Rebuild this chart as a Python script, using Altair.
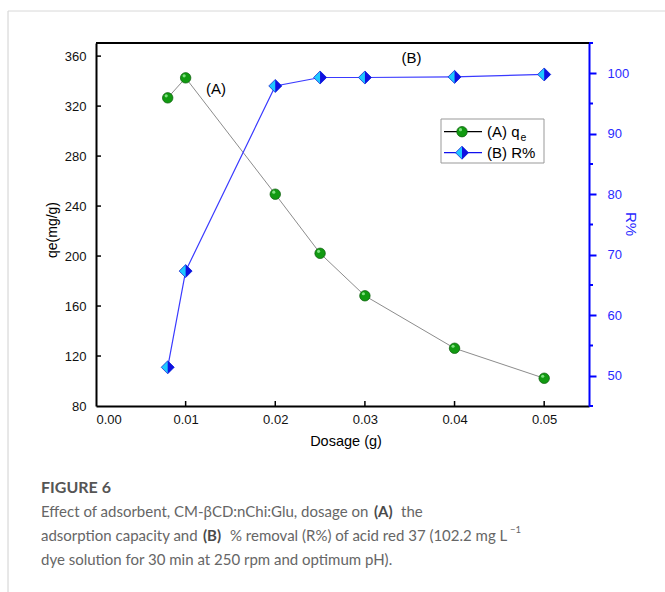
import altair as alt
import pandas as pd

# ---------------- data ----------------
dosage = [0.008, 0.010, 0.020, 0.025, 0.030, 0.040, 0.050]
qe_values = [326.6, 342.6, 249.5, 202.2, 168.2, 126.2, 102.2]
removal_pct = [51.4, 67.3, 97.9, 99.3, 99.3, 99.4, 99.8]

x_ticks = [0.00, 0.01, 0.02, 0.03, 0.04, 0.05]
qe_ticks = [80, 120, 160, 200, 240, 280, 320, 360]
r_ticks = [50, 60, 70, 80, 90, 100]
r_minor = [45, 55, 65, 75, 85, 95, 105]

ann_x = [0.0134, 0.0352]
ann_qe = [333.6, 358.4]
ann_text = ["(A)", "(B)"]

W, H = 493, 363
FONT = "Arial, Liberation Sans, sans-serif"
CAP_FONT = "Lato"

df = pd.DataFrame({"dosage": dosage, "qe": qe_values, "R": removal_pct})
ann_df = pd.DataFrame({"x": ann_x, "qe": ann_qe, "t": ann_text})

xscale = alt.Scale(domain=[0, 0.055], nice=False, zero=False)
qscale = alt.Scale(domain=[80, 370.5], nice=False, zero=False)
rscale = alt.Scale(domain=[45, 105], nice=False, zero=False)

xaxis = alt.Axis(values=x_ticks, format=".2f", title=None, grid=False, ticks=False,
                 tickSize=0, domainColor="black", domainWidth=2, labelFont=FONT,
                 labelFontSize=13, labelColor="#111", labelPadding=7)
qaxis = alt.Axis(values=qe_ticks, title=None, grid=False, ticks=False, tickSize=0,
                 domainColor="black", domainWidth=2, labelFont=FONT, labelFontSize=13,
                 labelColor="#111", labelPadding=10)
raxis = alt.Axis(orient="right", values=r_ticks, title=None, grid=False, tickSize=7,
                 tickWidth=2, tickColor="#0000ff", domainColor="#0000ff", domainWidth=2,
                 labelFont=FONT, labelFontSize=13, labelColor="#2a2aff", labelPadding=11)

X = alt.X("dosage:Q", scale=xscale, axis=xaxis)
Yq = alt.Y("qe:Q", scale=qscale, axis=qaxis)
Yr = alt.Y("R:Q", scale=rscale, axis=raxis)

base = alt.Chart(df)

# qe series
q_line = base.mark_line(color="#8c8c8c", strokeWidth=1).encode(x=X, y=Yq)
q_pts = base.mark_circle(size=110, color="#119a11", stroke="#0a5a0a", strokeWidth=0.7,
                         opacity=1).encode(x=X, y=Yq)
q_hl = base.mark_circle(size=10, color="#8be88b", opacity=0.9, xOffset=-1.5,
                        yOffset=-2).encode(x=X, y=Yq)

left_ticks = alt.Chart(pd.DataFrame({"qe": qe_ticks[1:]})).mark_rule(
    color="black", strokeWidth=1.5).encode(y=Yq, x=alt.value(0), x2=alt.value(5))
bottom_ticks = alt.Chart(pd.DataFrame({"dosage": x_ticks[1:]})).mark_rule(
    color="black", strokeWidth=1.5).encode(x=X, y=alt.value(H), y2=alt.value(H - 5))

ann = alt.Chart(ann_df).mark_text(font=FONT, fontSize=15, color="black").encode(
    x=alt.X("x:Q", scale=xscale, axis=xaxis), y=alt.Y("qe:Q", scale=qscale, axis=qaxis),
    text="t:N")

q_group = alt.layer(q_line, q_pts, q_hl, left_ticks, bottom_ticks, ann)

# R series
r_line = base.mark_line(color="#3a3aff", strokeWidth=1.2).encode(x=X, y=Yr)
r_dia = base.mark_point(shape="diamond", filled=True, fill="#1ec8ff", stroke="#1515d0",
                        strokeWidth=0.7, size=170, opacity=1).encode(x=X, y=Yr)
r_half = base.mark_point(shape="M0,-1L1,0L0,1Z", filled=True, fill="#1010e0",
                         strokeWidth=0, size=170, opacity=1).encode(x=X, y=Yr)
r_minor_ticks = alt.Chart(pd.DataFrame({"R": r_minor})).mark_rule(
    color="#0000ff", strokeWidth=2).encode(y=Yr, x=alt.value(W), x2=alt.value(W + 4))

r_group = alt.layer(r_line, r_dia, r_half, r_minor_ticks)


def txt(text, x, y, size, color="black", weight="normal", font=FONT, angle=0,
        align="left", baseline="middle"):
    return alt.Chart(pd.DataFrame({"t": [text]})).mark_text(
        font=font, fontSize=size, color=color, fontWeight=weight, angle=angle,
        align=align, baseline=baseline).encode(x=alt.value(x), y=alt.value(y), text="t:N")


def hrule(x1, x2, y, color, width=1):
    return alt.Chart(pd.DataFrame({"a": [0]})).mark_rule(color=color, strokeWidth=width).encode(
        x=alt.value(x1), x2=alt.value(x2), y=alt.value(y))


def vrule(x, y1, y2, color, width=1):
    return alt.Chart(pd.DataFrame({"a": [0]})).mark_rule(color=color, strokeWidth=width).encode(
        x=alt.value(x), y=alt.value(y1), y2=alt.value(y2))


CAP = 15
decor = [
    # card border
    vrule(-88, -32, 560, "#d0d0d0"),
    hrule(-88, 569, -32, "#d8d8d8"),
    # top frame
    hrule(0, W, 0, "black", 2),
    # axis titles
    txt("qe(mg/g)", -43, 187, 14, angle=270, align="center"),
    txt("R%", 535, 181, 15, color="#2a2aff", angle=90, align="center"),
    txt("Dosage (g)", 250, 399, 14.5, align="center"),
    # legend
    alt.Chart(pd.DataFrame({"a": [0]})).mark_rect(fill="white", stroke="#999",
                                                  strokeWidth=1).encode(
        x=alt.value(345), x2=alt.value(448), y=alt.value(76), y2=alt.value(120)),
    hrule(348, 386, 88.7, "black", 1.2),
    alt.Chart(pd.DataFrame({"a": [0]})).mark_circle(size=110, color="#119a11",
                                                    stroke="#0a5a0a", strokeWidth=0.7,
                                                    opacity=1).encode(
        x=alt.value(366), y=alt.value(88.7)),
    alt.Chart(pd.DataFrame({"a": [0]})).mark_circle(size=10, color="#8be88b",
                                                    opacity=0.9).encode(
        x=alt.value(364.5), y=alt.value(86.7)),
    txt("(A) q", 391, 88.7, 15),
    txt("e", 424.5, 95, 10.5),
    hrule(348, 386, 109.7, "#1010ee", 1.2),
    alt.Chart(pd.DataFrame({"a": [0]})).mark_point(shape="diamond", filled=True,
                                                   fill="#1ec8ff", stroke="#1515d0",
                                                   strokeWidth=0.7, size=170,
                                                   opacity=1).encode(
        x=alt.value(366), y=alt.value(109.7)),
    alt.Chart(pd.DataFrame({"a": [0]})).mark_point(shape="M0,-1L1,0L0,1Z", filled=True,
                                                   fill="#1010e0", strokeWidth=0,
                                                   size=170, opacity=1).encode(
        x=alt.value(366), y=alt.value(109.7)),
    txt("(B) R%", 391, 109.7, 15),
    # caption
    txt("FIGURE 6", -55, 445, 16, color="#555", weight="bold", font=CAP_FONT),
    txt("Effect of adsorbent, CM-\u03b2CD:nChi:Glu, dosage on", -55, 469, CAP,
        color="#666", font=CAP_FONT),
    txt("(A)", 278, 469, CAP, color="#4a4a4a", weight="bold", font=CAP_FONT),
    txt("the", 305, 469, CAP, color="#666", font=CAP_FONT),
    txt("adsorption capacity and", -55, 493, CAP, color="#666", font=CAP_FONT),
    txt("(B)", 107, 493, CAP, color="#4a4a4a", weight="bold", font=CAP_FONT),
    txt("% removal (R%) of acid red 37 (102.2 mg L", 134, 493, CAP, color="#666",
        font=CAP_FONT),
    txt("\u22121", 414, 487, 9.5, color="#666", font=CAP_FONT),
    txt("dye solution for 30 min at 250 rpm and optimum pH).", -55, 517, CAP,
        color="#666", font=CAP_FONT),
]

chart = alt.layer(q_group, r_group, *decor).resolve_scale(y="independent").properties(
    width=W, height=H,
    autosize=alt.AutoSizeParams(type="none"),
    padding={"left": 96, "top": 43, "right": 76, "bottom": 186},
    background="white",
).configure_view(stroke=None)

chart.save("out.html", embed_options={"renderer": "svg", "actions": False})
